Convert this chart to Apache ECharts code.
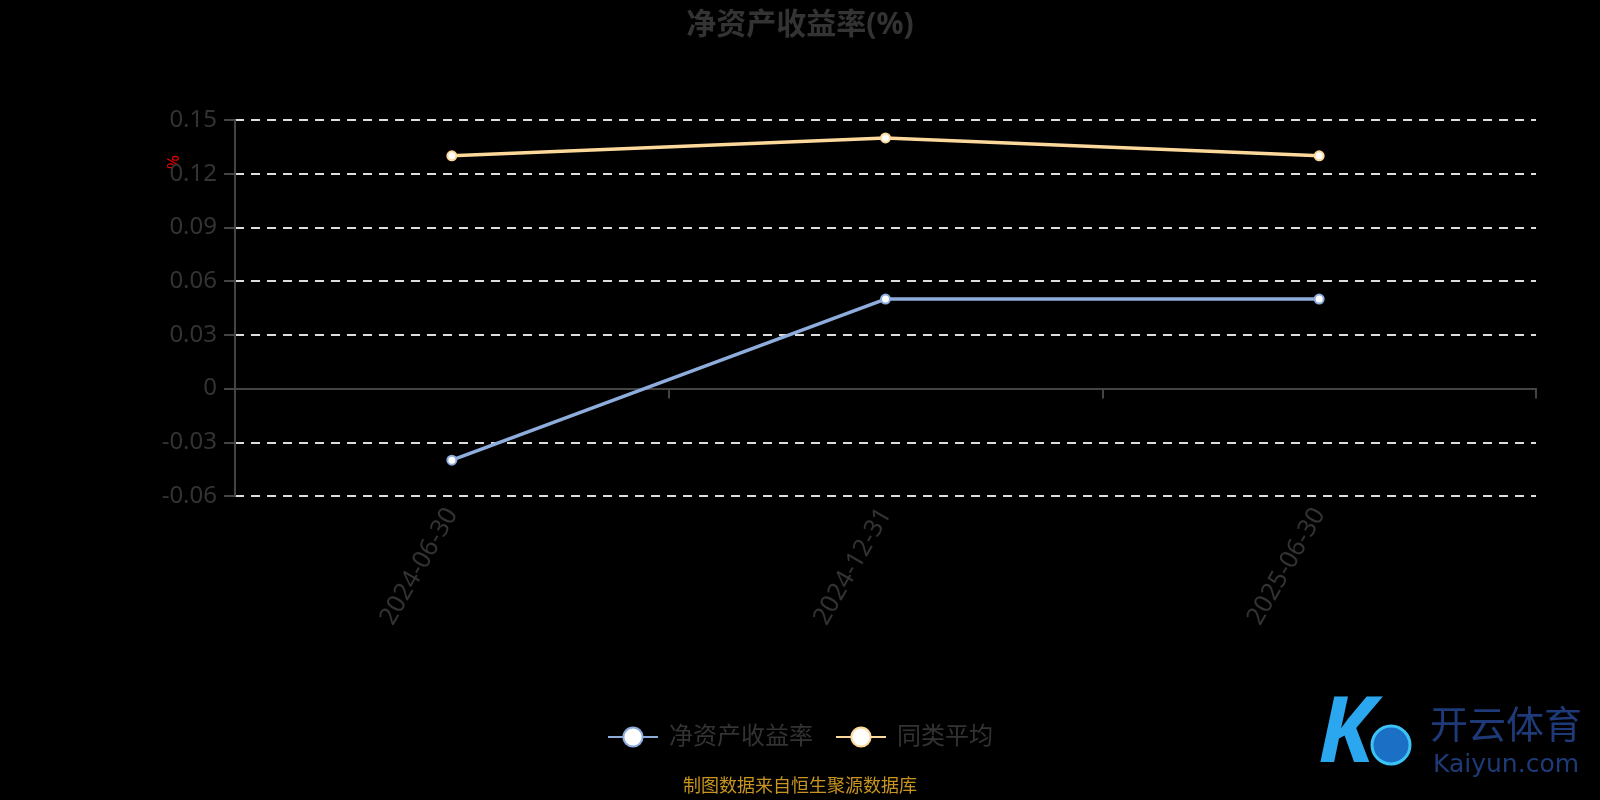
<!DOCTYPE html>
<html>
<head>
<meta charset="utf-8">
<style>
  html, body { margin: 0; padding: 0; background: #000; }
  #chart { width: 1600px; height: 800px; }
</style>
<script src="https://cdn.jsdelivr.net/npm/echarts@6/dist/echarts.min.js"></script>
</head>
<body>
<div id="chart"></div>
<script>
const categories = ["2024-06-30", "2024-12-31", "2025-06-30"];
const roeValues = [-0.04, 0.05, 0.05];
const avgValues = [0.13, 0.14, 0.13];
const seriesNames = ["净资产收益率", "同类平均"];
const yMin = -0.06;
const yMax = 0.15;
const yStep = 0.03;

const font = '"Noto Sans", "Noto Sans CJK SC", sans-serif';
const blue = "#8eaddc";
const yellow = "#fcd89a";

const chart = echarts.init(document.getElementById("chart"));

chart.setOption({
  backgroundColor: "#000",
  textStyle: { fontFamily: font },
  title: {
    text: "净资产收益率(%)",
    left: "center",
    top: 5,
    textStyle: { color: "#333", fontSize: 30, fontWeight: "bold", fontFamily: font },
  },
  legend: {
    bottom: 46,
    left: "center",
    itemWidth: 50,
    itemHeight: 24,
    itemGap: 22,
    textStyle: { color: "#333", fontSize: 24, padding: [0, 0, 0, 6] },
    data: seriesNames,
  },
  grid: { left: 235, right: 64, top: 120, bottom: 304 },
  xAxis: [
    {
      type: "category",
      data: categories,
      axisLine: { onZero: true, lineStyle: { color: "#444", width: 2 } },
      axisTick: { show: true, length: 10, lineStyle: { color: "#444", width: 2 } },
      axisLabel: { show: false },
    },
    {
      type: "category",
      data: categories,
      position: "bottom",
      axisLine: { show: false, onZero: false },
      axisTick: { show: false },
      axisLabel: { color: "#333", fontSize: 25, rotate: 60, margin: 14 },
    },
  ],
  yAxis: {
    type: "value",
    min: yMin,
    max: yMax,
    interval: yStep,
    axisLine: { show: true, lineStyle: { color: "#444", width: 2 } },
    axisTick: { show: true, length: 11, lineStyle: { color: "#444", width: 2 } },
    axisLabel: {
      color: "#333",
      fontSize: 24,
      margin: 18,
      formatter: (v) => String(+v.toFixed(2)),
    },
    splitLine: { lineStyle: { color: "#ddd", width: 2, type: [9, 7] } },
  },
  graphic: [
    {
      type: "text",
      x: 172,
      y: 162,
      rotation: -Math.PI / 2,
      style: { text: "%", fill: "#e00", fontSize: 17, fontFamily: font, align: "center", verticalAlign: "middle" },
    },
    {
      type: "text",
      left: "center",
      top: 778,
      style: { text: "制图数据来自恒生聚源数据库", fill: "#c8951e", fontSize: 18, fontFamily: font },
    },
    // watermark
    {
      type: "text",
      left: 1318,
      top: 690,
      style: { text: "K", fill: "#2aa7ef", fontSize: 92, fontStyle: "italic", fontWeight: "bold", fontFamily: font },
    },
    {
      type: "circle",
      shape: { cx: 1391, cy: 745, r: 19 },
      style: { fill: "#1b6fc4", stroke: "#3cc3f5", lineWidth: 3 },
    },
    {
      type: "text",
      left: 1430,
      top: 708,
      style: { text: "开云体育", fill: "#1e3a78", fontSize: 38, fontFamily: font },
    },
    {
      type: "text",
      left: 1433,
      top: 753,
      style: { text: "Kaiyun.com", fill: "#1e3a78", fontSize: 25, fontFamily: '"DejaVu Sans", sans-serif' },
    },
  ],
  series: [
    {
      name: seriesNames[0],
      type: "line",
      data: roeValues,
      xAxisIndex: 0,
      symbol: "circle",
      symbolSize: 9,
      lineStyle: { color: blue, width: 3.5 },
      itemStyle: { color: "#fff", borderColor: blue, borderWidth: 2 },
    },
    {
      name: seriesNames[1],
      type: "line",
      data: avgValues,
      xAxisIndex: 0,
      symbol: "circle",
      symbolSize: 9,
      lineStyle: { color: yellow, width: 3.5 },
      itemStyle: { color: "#fff", borderColor: yellow, borderWidth: 2 },
    },
  ],
});
</script>
</body>
</html>
